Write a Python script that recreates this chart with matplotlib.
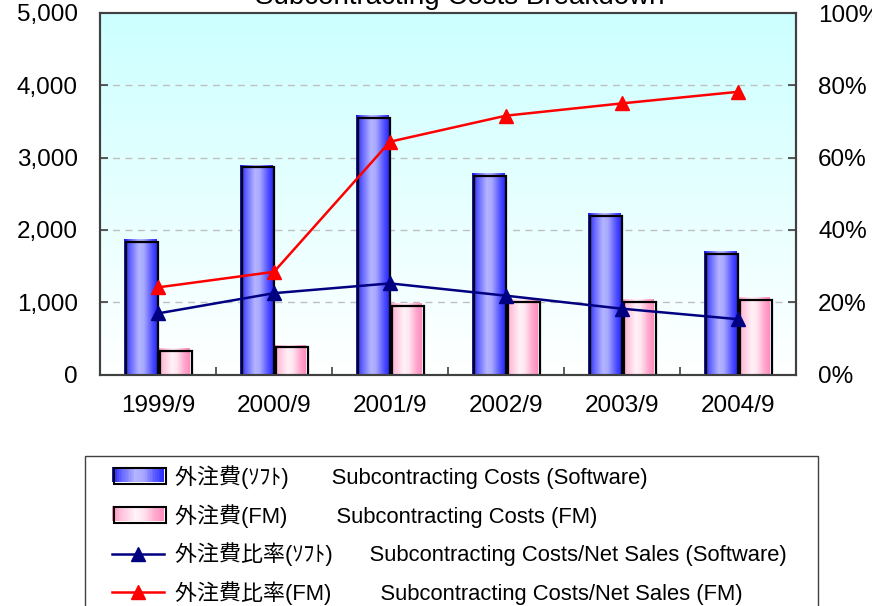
import numpy as np
import matplotlib
matplotlib.use('Agg')
import matplotlib.pyplot as plt
from matplotlib.colors import LinearSegmentedColormap
from matplotlib.patches import Rectangle
from matplotlib.lines import Line2D
from matplotlib.legend_handler import HandlerBase
from matplotlib.ticker import FuncFormatter, MultipleLocator
from matplotlib import transforms

plt.rcParams['font.family'] = ['Liberation Sans', 'Noto Sans CJK JP']

# data
periods = ['1999/9', '2000/9', '2001/9', '2002/9', '2003/9', '2004/9']
cost_soft = [1860, 2885, 3575, 2770, 2215, 1690]
cost_fm = [350, 398, 972, 1030, 1030, 1055]
ratio_soft = [16.9, 22.5, 25.2, 21.8, 18.2, 15.3]
ratio_fm = [24.1, 28.4, 64.4, 71.6, 75.0, 78.2]

title = 'Subcontracting Costs Breakdown'
labels = ['外注費(ｿﾌﾄ)       Subcontracting Costs (Software)',
          '外注費(FM)        Subcontracting Costs (FM)',
          '外注費比率(ｿﾌﾄ)      Subcontracting Costs/Net Sales (Software)',
          '外注費比率(FM)        Subcontracting Costs/Net Sales (FM)']

blue_cmap = LinearSegmentedColormap.from_list(
    'bl', [(0, '#1414e6'), (0.15, '#5a5aff'), (0.45, '#b4b4ff'),
           (0.6, '#aaaaff'), (0.85, '#5555ff'), (1, '#2a2aff')])
pink_cmap = LinearSegmentedColormap.from_list(
    'pk', [(0, '#ff88bb'), (0.15, '#ffbcd8'), (0.45, '#fff2f8'),
           (0.6, '#ffe6f0'), (0.85, '#ffa6cc'), (1, '#ff8cc0')])
bg_cmap = LinearSegmentedColormap.from_list('bg', ['#ccffff', '#ffffff'])


class GradientHandler(HandlerBase):
    def __init__(self, cmap):
        super().__init__()
        self.cmap = cmap

    def create_artists(self, legend, orig_handle, xdescent, ydescent,
                       width, height, fontsize, trans):
        n = 30
        arts = []
        for k in range(n):
            arts.append(Rectangle((-xdescent + width * k / n, -ydescent + 1),
                                  width / n + 0.3, height,
                                  facecolor=self.cmap((k + 0.5) / n),
                                  edgecolor='none', transform=trans))
        arts.append(Rectangle((-xdescent + 1.5, -ydescent), width, height,
                              facecolor='none', edgecolor='black', lw=1.5,
                              transform=trans))
        return arts


fig = plt.figure(figsize=(8.72, 6.06), dpi=100)
ax = fig.add_axes([100 / 872, 1 - 374.5 / 606, 696 / 872, 361.5 / 606])
ax2 = ax.twinx()

# background gradient
ax.imshow(np.linspace(0, 1, 256).reshape(-1, 1), extent=[0, 1, 0, 1],
          transform=ax.transAxes, cmap=bg_cmap, aspect='auto', zorder=0)

x = np.arange(len(periods))
w = 0.28
for vals, off, cmap in [(cost_soft, -0.155, blue_cmap), (cost_fm, 0.135, pink_cmap)]:
    bars = ax.bar(x + off, vals, w, facecolor='none', edgecolor='none', zorder=2)
    for b in bars:
        ax.imshow(np.linspace(0, 1, 64).reshape(1, -1), cmap=cmap, aspect='auto',
                  extent=[b.get_x(), b.get_x() + b.get_width(), 0, b.get_height()],
                  zorder=2, interpolation='bilinear')
    shifted = transforms.offset_copy(ax.transData, fig=fig, x=2.2, y=-1.5, units='dots')
    ax.bar(x + off, vals, w, facecolor='none', edgecolor='black', lw=1.6,
           zorder=3, transform=shifted)

for g in range(1000, 5000, 1000):
    ax.axhline(g, color='#c0c0c0', lw=1, ls=(0, (5, 4)), zorder=1)

ax.set_xlim(-0.5, len(periods) - 0.5)
ax.set_ylim(0, 5000)
ax.yaxis.set_major_locator(MultipleLocator(1000))
ax.yaxis.set_major_formatter(FuncFormatter(lambda v, _: f'{int(v):,}'))
ax.set_xticks(x)
ax.set_xticklabels(periods)
ax.set_xticks(x[:-1] + 0.5, minor=True)
ax.tick_params(axis='x', which='major', length=0, pad=15, labelsize=17.5)
ax.tick_params(axis='x', which='minor', direction='in', length=6, width=1.2, color='#404040')
ax.tick_params(axis='y', direction='in', length=6, width=1.2, color='#404040',
               pad=16, labelsize=17.5)

ax2.plot(x, ratio_soft, color='#000080', lw=1.8, marker='^', ms=9.5, zorder=5)
ax2.plot(x, ratio_fm, color='#ff0000', lw=1.8, marker='^', ms=9.5, zorder=5)
ax2.set_ylim(0, 100)
ax2.yaxis.set_major_locator(MultipleLocator(20))
ax2.yaxis.set_major_formatter(FuncFormatter(lambda v, _: f'{int(v)}%'))
ax2.tick_params(axis='y', direction='in', length=6, width=1.2, color='#404040',
                pad=16, labelsize=17.5)

for a in (ax, ax2):
    for s in a.spines.values():
        s.set_color('#404040')
        s.set_linewidth(1.5)

fig.text(460 / 872, 1 - 4 / 606, title, ha='center', va='baseline', fontsize=20)

# legend
h_soft = Rectangle((0, 0), 1, 1)
h_fm = Rectangle((0, 0), 1, 1)
h_rs = Line2D([], [], color='#000080', lw=1.8, marker='^', ms=9.5)
h_rf = Line2D([], [], color='#ff0000', lw=1.8, marker='^', ms=9.5)
fig.legend([h_soft, h_fm, h_rs, h_rf], labels, loc='upper left',
           bbox_to_anchor=(112 / 872, 1 - 465 / 606), bbox_transform=fig.transFigure,
           frameon=False, borderpad=0, borderaxespad=0, handlelength=2.36,
           handletextpad=0.5, labelspacing=0.68, fontsize=15.8,
           handler_map={h_soft: GradientHandler(blue_cmap),
                        h_fm: GradientHandler(pink_cmap)})
fig.add_artist(Rectangle((84.5 / 872, -0.02), (818 - 84.5) / 872, 0.02 + 1 - 456 / 606,
                         transform=fig.transFigure, fill=False,
                         edgecolor='#404040', lw=1))

fig.savefig('out.png', dpi=100)
